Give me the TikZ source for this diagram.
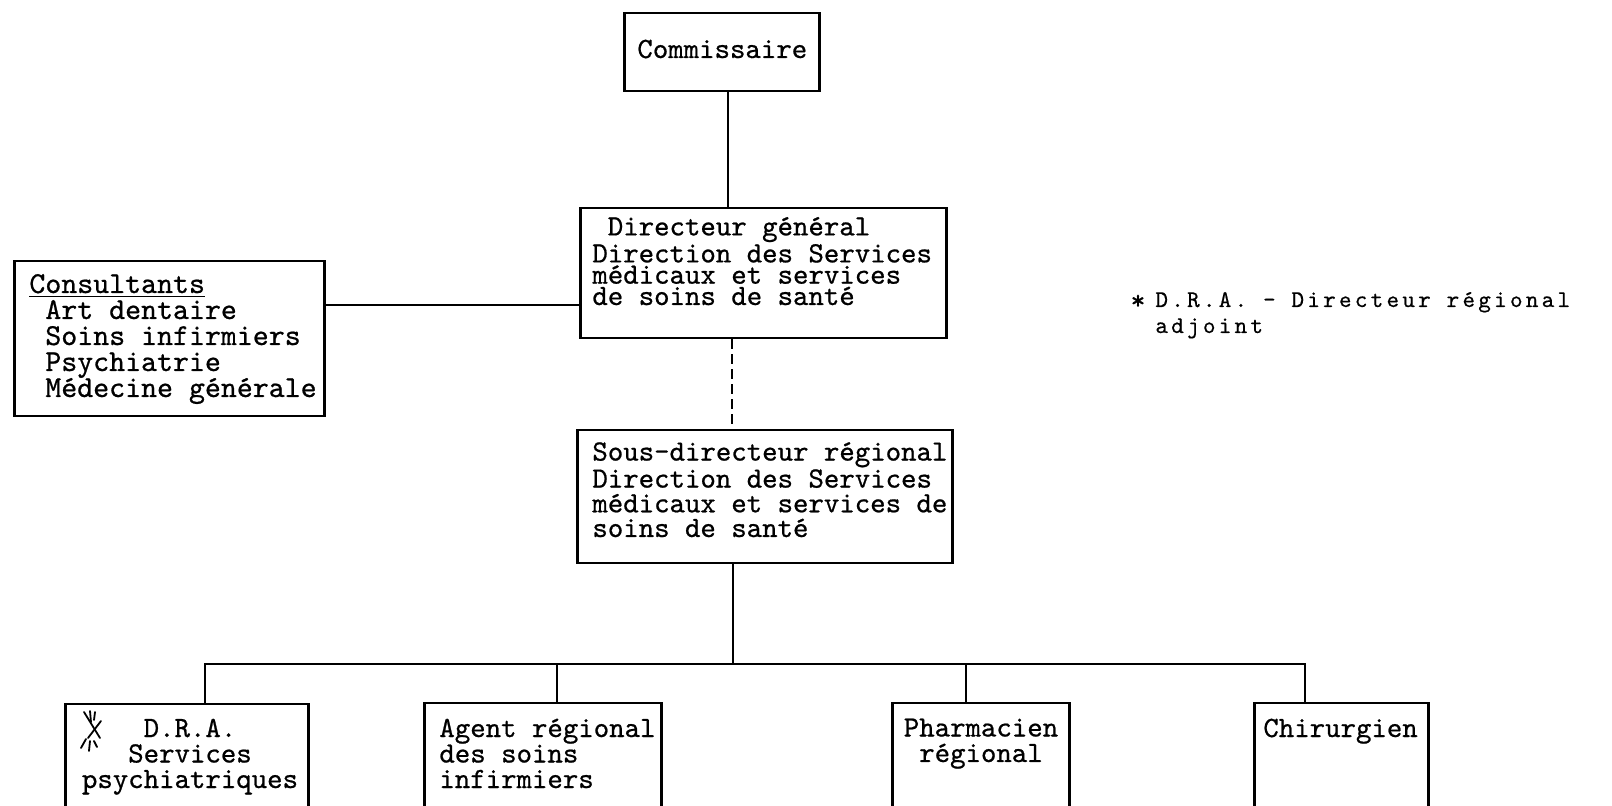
\documentclass[tikz,border=0pt]{standalone}
\usepackage{fontspec}
\newfontfamily\typewr[FakeBold=0.7]{lmmono10-regular.otf}
\newfontfamily\notefont[LetterSpace=13.5,FakeBold=0.5]{lmmono10-regular.otf}
\begin{document}
\begin{tikzpicture}[x=0.5pt, y=-0.5pt,
  box/.style={draw, line width=1.25pt, inner sep=0pt, anchor=north west},
  boxtext/.style={inner sep=0pt, align=left, anchor=base west,
    font=\typewr\fontsize{14.7}{12.75}\selectfont},
  link/.style={line width=1.25pt},
  dashlink/.style={line width=1.25pt, dash pattern=on 5pt off 2.5pt}]
\useasboundingbox (0,0) rectangle (1612,806);
\clip (0,0) rectangle (1612,806);

% boxes
\node[box, minimum width=97.5pt, minimum height=39pt]  (com)   at (623,12)  {};
\node[box, minimum width=183pt,  minimum height=65pt]  (dg)    at (579,207) {};
\node[box, minimum width=155pt,  minimum height=77.5pt] (cons) at (13,260)  {};
\node[box, minimum width=187.5pt, minimum height=66.5pt] (sd)  at (576,429) {};
\node[box, minimum width=121.5pt, minimum height=51.5pt] (dra) at (64,703)  {};
\node[box, minimum width=118.5pt, minimum height=52pt] (agent) at (423,702) {};
\node[box, minimum width=88.5pt,  minimum height=52pt] (pharm) at (891,702) {};
\node[box, minimum width=87pt,    minimum height=52pt] (chir)  at (1253,702) {};

% box texts (anchored on the baseline of their last line)
\node[boxtext] (comtxt) at (637,58) {Commissaire};
\node[boxtext, font=\typewr\fontsize{14.7}{10.65}\selectfont] (dgtxt) at (592,305)
  {~Directeur général\\Direction des Services\\médicaux et services\\de soins de santé};
\node[boxtext, font=\typewr\fontsize{15.2}{13}\selectfont] (constxt) at (29,397)
  {\underline{Consultants}\\~Art dentaire\\~Soins infirmiers\\~Psychiatrie\\~Médecine générale};
\node[boxtext, font=\typewr\fontsize{14.7}{12.35}\selectfont] (sdtxt) at (592,537)
  {Sous-directeur régional\\Direction des Services\\médicaux et services de\\soins de santé};
\node[boxtext, align=center, anchor=base] (dratxt) at (190,788)
  {D.R.A.\\Services\\psychiatriques};
\node[boxtext] (agenttxt) at (439,788) {Agent régional\\des soins\\infirmiers};
\node[boxtext, align=center, anchor=base] (pharmtxt) at (981,762) {Pharmacien\\régional};
\node[boxtext] (chirtxt) at (1263,737) {Chirurgien};

% hand-drawn asterisk in the D.R.A. box
\begin{scope}[line width=0.9pt, line cap=round]
  \draw (84,712) -- (100,738);
  \draw (101,721) -- (88,738);
  \draw (90,711) -- (91,722);
  \draw (95,712) -- (94,720);
  \draw (81,748) -- (86,739);
  \draw (89,751) -- (90,741);
  \draw (97,747) -- (94,741);
\end{scope}

% footnote
\node[inner sep=0pt, font=\typewr\fontsize{14}{13}\selectfont] (star) at (1138,302) {*};
\node[boxtext, font=\notefont\fontsize{12}{13}\selectfont] (note) at (1155,333)
  {D.R.A. - Directeur régional\\adjoint};

% connectors
\coordinate (xa) at (728,0);
\coordinate (ya) at (0,305);
\coordinate (xb) at (732,0);
\coordinate (busc) at (733,664);
\coordinate (busl) at (205,664);
\coordinate (busr) at (1305,664);
\coordinate (ta) at (557,664);
\coordinate (tp) at (966,664);

\draw[link] (com.south -| xa) -- (dg.north -| xa);
\draw[link] (cons.east |- ya) -- (dg.west |- ya);
\draw[dashlink] (dg.south -| xb) -- (sd.north -| xb);
\draw[link] (sd.south -| busc) -- (busc);
\draw[link] (dra.north -| busl) -- (busl) -- (busr) -- (chir.north -| busr);
\draw[link] (ta) -- (agent.north -| ta);
\draw[link] (tp) -- (pharm.north -| tp);
\end{tikzpicture}
\end{document}
